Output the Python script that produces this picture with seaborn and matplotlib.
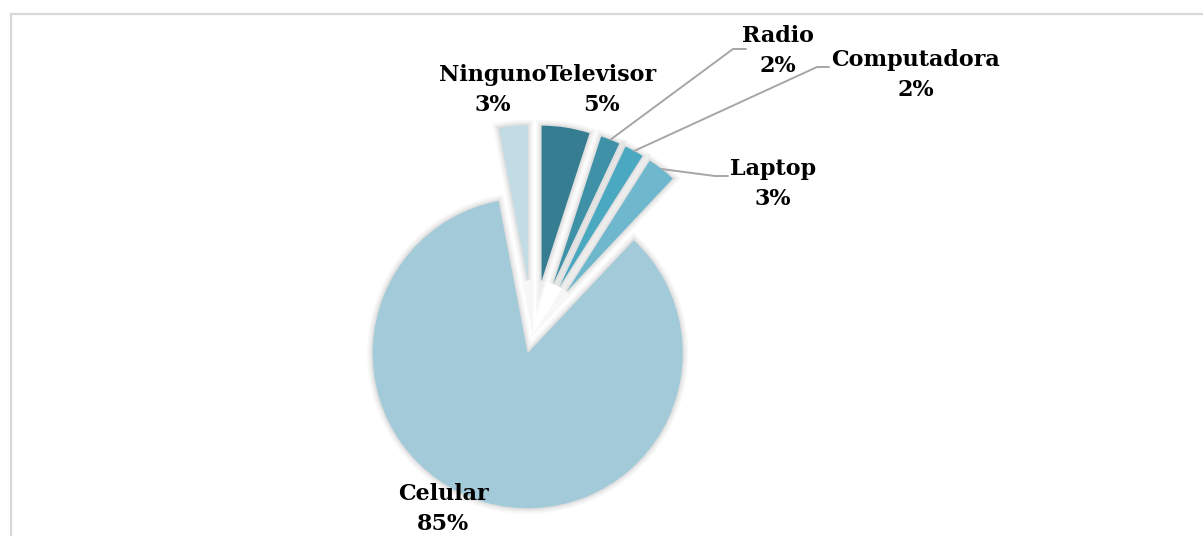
import numpy as np
import matplotlib
matplotlib.use("Agg")
import matplotlib.pyplot as plt
import matplotlib.patheffects as pe
import seaborn as sns

# Data (percent of respondents)
categories = ['Televisor', 'Radio', 'Computadora', 'Laptop', 'Celular', 'Ninguno']
percentages = [5, 2, 2, 3, 85, 3]

colors = ['#367D91', '#3F91A7', '#4AA8C1', '#6FB7CD', '#A3CAD9', '#C2DCE5']
explode = [55, 55, 55, 55, 19, 55]

# label block centres in image pixels (x, y from top)
label_pos = {
    'Televisor': (601, 90),
    'Radio': (778, 51),
    'Computadora': (916, 75),
    'Laptop': (773, 184),
    'Celular': (443, 509),
    'Ninguno': (493, 90),
}
# leader line elbows / ends in image pixels
leaders = {
    'Radio': [(733, 49), (746, 49)],
    'Computadora': [(817, 67), (829, 67)],
    'Laptop': [(715, 176), (728, 176)],
}

W, H = 1203, 536

sns.set_theme(style='white')
plt.rcParams['font.family'] = ['DejaVu Serif']


def img(x, y):
    return x, H - y


fig = plt.figure(figsize=(W / 100, H / 100), dpi=100)
ax = fig.add_axes([0, 0, 1, 1])

wedges, _ = ax.pie(
    percentages,
    colors=colors,
    startangle=90,
    counterclock=False,
    center=img(533, 335),
    radius=155,
    explode=explode,
    wedgeprops=dict(linewidth=0),
)
for w in wedges:
    w.set_path_effects([
        pe.Stroke(linewidth=8, foreground='black', alpha=0.03),
        pe.Stroke(linewidth=5, foreground='black', alpha=0.04),
        pe.Stroke(linewidth=2.5, foreground='black', alpha=0.05),
        pe.Normal(),
    ])

ax.set_xlim(0, W)
ax.set_ylim(0, H)
ax.set_aspect('auto')
ax.axis('off')

# chart frame
ax.plot([11, 11, W], [0, H - 13.5, H - 13.5], color='#d9d9d9', lw=1.6,
        solid_joinstyle='miter', clip_on=False)

for w, cat, pct in zip(wedges, categories, percentages):
    x, y = img(*label_pos[cat])
    ax.text(x, y, f'{cat}\n{pct}%', ha='center', va='center', fontsize=16,
            fontweight='bold', color='black', linespacing=1.45)
    if cat in leaders:
        mid = np.deg2rad((w.theta1 + w.theta2) / 2)
        cx, cy = w.center
        tip = (cx + w.r * np.cos(mid), cy + w.r * np.sin(mid))
        pts = [tip] + [img(*p) for p in leaders[cat]]
        xs, ys = zip(*pts)
        ax.plot(xs, ys, color='#a6a6a6', lw=1.4)

fig.savefig('out.png', dpi=100, facecolor='white')
